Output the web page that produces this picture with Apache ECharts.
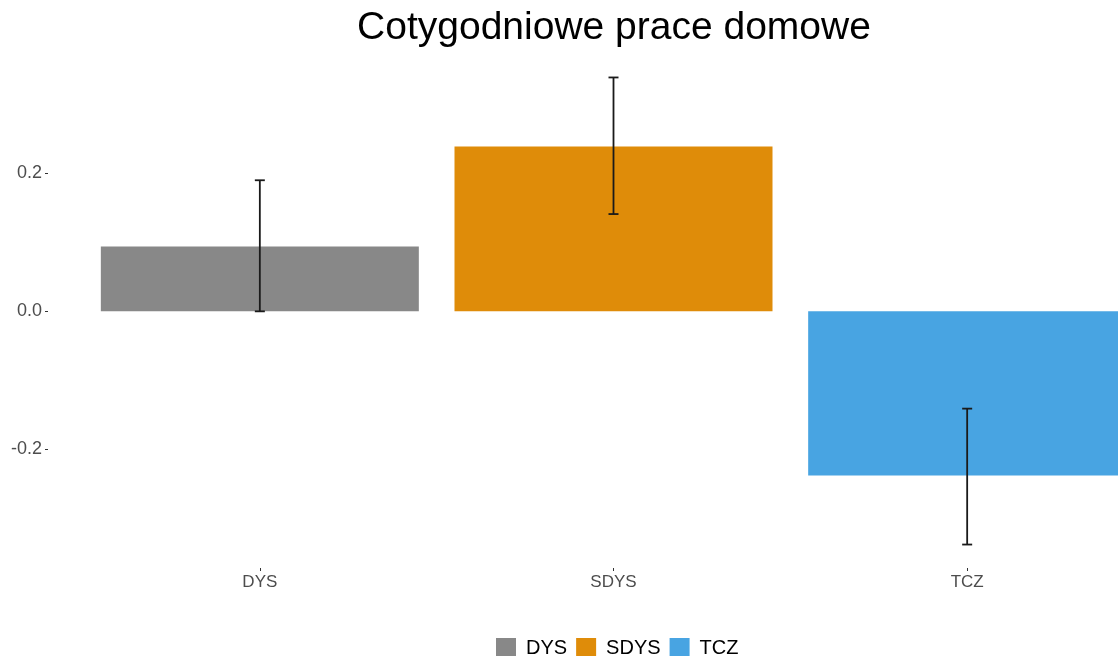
<!DOCTYPE html>
<html>
<head>
<meta charset="utf-8">
<script src="https://cdn.jsdelivr.net/npm/echarts@6/dist/echarts.min.js"></script>
<style>
  html, body { margin: 0; padding: 0; background: #fff; }
  #chart { width: 1118px; height: 656px; }
</style>
</head>
<body>
<div id="chart"></div>
<script>
// categories and values
const categories = ['DYS', 'SDYS', 'TCZ'];
const means = [0.094, 0.239, -0.238];
const errLow = [0.0, 0.141, -0.338];
const errHigh = [0.19, 0.339, -0.141];
const colors = ['#888888', '#DF8C09', '#48A4E2'];
const yTicks = [-0.2, 0.0, 0.2];

const chart = echarts.init(document.getElementById('chart'));

/* one bar series per category so the legend gets three entries */
const barSeries = categories.map(function (name, i) {
  return {
    name: name,
    type: 'bar',
    stack: 'all',
    barWidth: 318,
    itemStyle: { color: colors[i] },
    data: categories.map(function (c, j) { return j === i ? means[i] : '-'; })
  };
});

const errData = categories.map(function (c, i) { return [i, errLow[i], errHigh[i]]; });

const option = {
  animation: false,
  title: {
    text: 'Cotygodniowe prace domowe',
    left: 609,
    textAlign: 'center',
    top: 4,
    textStyle: { fontFamily: 'Liberation Sans', fontSize: 39, fontWeight: 'normal', color: '#000' }
  },
  legend: {
    bottom: -7,
    left: 491,
    itemWidth: 20,
    itemHeight: 20,
    itemGap: 9,
    icon: 'rect',
    data: categories,
    textStyle: { fontFamily: 'Liberation Sans', fontSize: 20, color: '#000', padding: [0, 0, 0, 5] }
  },
  // the panel runs past the right edge, as in the picture
  grid: { left: 83, width: 1061, top: 54, bottom: 88, outerBoundsMode: 'none' },
  xAxis: {
    type: 'category',
    data: categories,
    axisLine: { show: false, onZero: false },
    axisTick: { show: true, alignWithLabel: true, length: 3, lineStyle: { color: '#333', width: 1 } },
    axisLabel: { fontFamily: 'Liberation Sans', fontSize: 17, color: '#4d4d4d', margin: 6 },
    splitLine: { show: false }
  },
  yAxis: {
    type: 'value',
    min: -0.372,
    max: 0.373,
    offset: 35,
    axisLine: { show: false },
    splitLine: { show: false },
    axisTick: { show: true, length: 3, customValues: yTicks, lineStyle: { color: '#333', width: 1 } },
    axisLabel: {
      customValues: yTicks,
      fontFamily: 'Liberation Sans',
      fontSize: 18,
      color: '#4d4d4d',
      margin: 6,
      formatter: function (v) { return v.toFixed(1); }
    }
  },
  series: barSeries.concat([{
    type: 'custom',
    name: 'err',
    z: 10,
    data: errData,
    renderItem: function (params, api) {
      const x = api.value(0);
      const lo = api.coord([x, api.value(1)]);
      const hi = api.coord([x, api.value(2)]);
      const cap = 5;
      const style = { stroke: '#1a1a1a', lineWidth: 1.8 };
      return {
        type: 'group',
        children: [
          { type: 'line', shape: { x1: lo[0], y1: lo[1], x2: hi[0], y2: hi[1] }, style: style },
          { type: 'line', shape: { x1: lo[0] - cap, y1: lo[1], x2: lo[0] + cap, y2: lo[1] }, style: style },
          { type: 'line', shape: { x1: hi[0] - cap, y1: hi[1], x2: hi[0] + cap, y2: hi[1] }, style: style }
        ]
      };
    }
  }])
};

chart.setOption(option);
</script>
</body>
</html>
